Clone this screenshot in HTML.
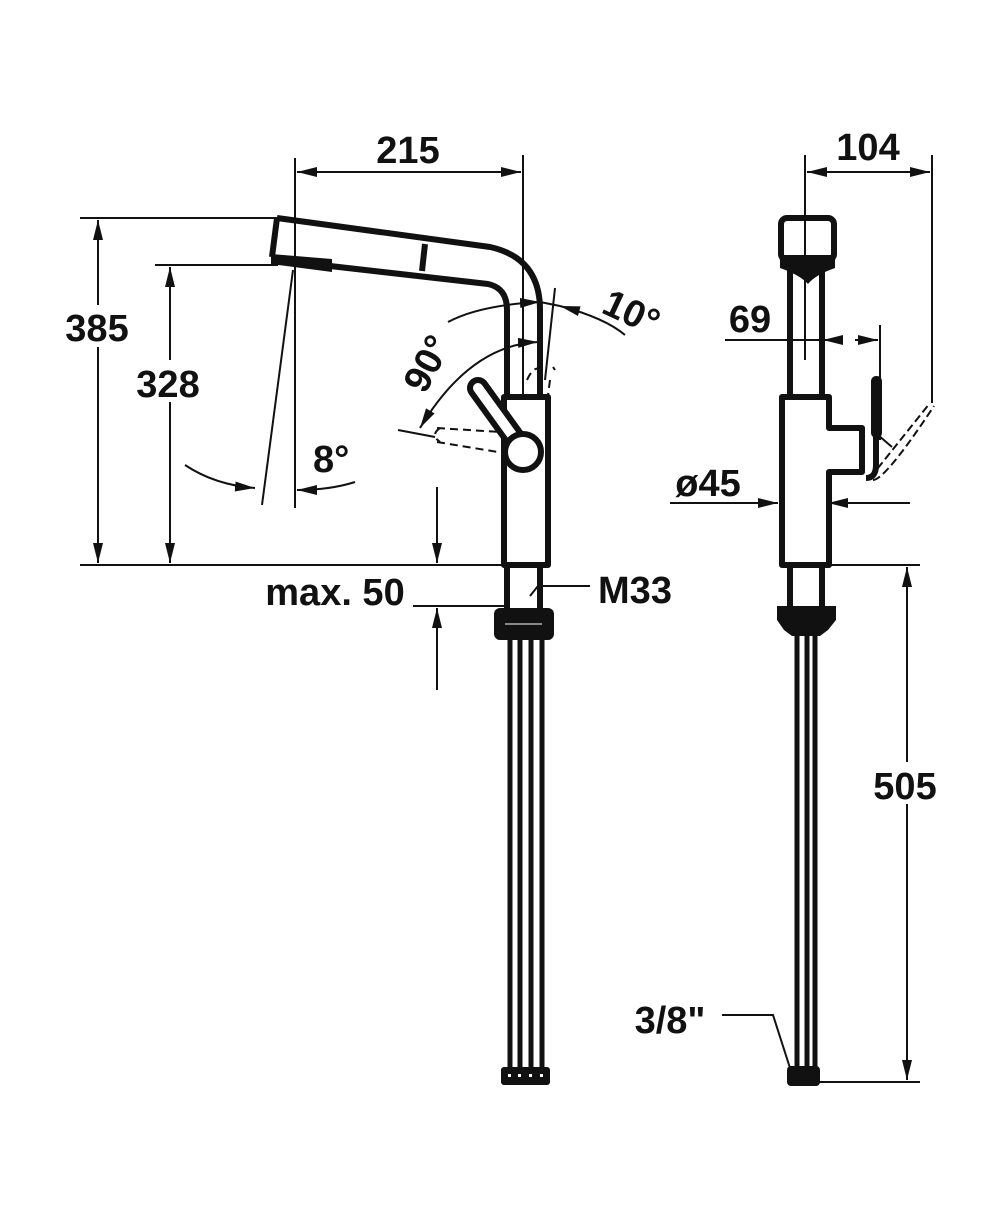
<!DOCTYPE html>
<html><head><meta charset="utf-8"><style>
html,body{margin:0;padding:0;background:#fff}
svg{display:block}
text{font-family:"Liberation Sans",Arial,sans-serif;font-weight:bold;font-size:38px;fill:#111}
</style></head><body>
<svg width="1000" height="1208" viewBox="0 0 1000 1208" xmlns="http://www.w3.org/2000/svg">
<defs>
<marker id="a" viewBox="0 0 20 10" refX="20" refY="5" markerWidth="20" markerHeight="10" markerUnits="userSpaceOnUse" orient="auto-start-reverse"><path d="M0,0 L20,5 L0,10 z" fill="#111"/></marker>
</defs>
<g stroke="#111" fill="none" stroke-width="2">
<!-- 215 -->
<line x1="295" y1="158" x2="295" y2="508"/>
<line x1="523" y1="155" x2="523" y2="398"/>
<line x1="297" y1="172" x2="521" y2="172" marker-start="url(#a)" marker-end="url(#a)"/>
<!-- 385 -->
<line x1="80" y1="218" x2="280" y2="218"/>
<line x1="80" y1="565" x2="502" y2="565"/>
<line x1="98" y1="220" x2="98" y2="563" marker-start="url(#a)" marker-end="url(#a)"/>
<!-- 328 -->
<line x1="155" y1="265" x2="278" y2="265"/>
<line x1="170" y1="267" x2="170" y2="563" marker-start="url(#a)" marker-end="url(#a)"/>
<!-- 8 deg -->
<line x1="293" y1="270" x2="262" y2="505"/>
<path d="M185,465 Q215,485 255,488" marker-end="url(#a)"/>
<path d="M355,482 Q330,490 297,490" marker-end="url(#a)"/>
<!-- 10 / 90 arcs -->
<path d="M448,322 Q480,305 540,302" marker-end="url(#a)"/>
<path d="M625,335 Q605,318 560,306" marker-end="url(#a)"/>
<line x1="540" y1="302" x2="560" y2="306"/>
<line x1="553" y1="367" x2="555" y2="370"/>
<line x1="545" y1="380" x2="555" y2="288"/>
<path d="M538,342 Q470,345 420,428" marker-start="url(#a)" marker-end="url(#a)"/>
<line x1="398" y1="430" x2="435" y2="437"/>
<!-- max 50 -->
<line x1="413" y1="606" x2="508" y2="606"/>
<line x1="437" y1="487" x2="437" y2="563" marker-end="url(#a)"/>
<line x1="437" y1="690" x2="437" y2="608" marker-end="url(#a)"/>
<!-- M33 -->
<line x1="530" y1="596" x2="538" y2="586"/>
<line x1="538" y1="586" x2="590" y2="586"/>
<!-- 3/8 -->
<polyline points="722,1015 773,1015 790,1068"/>
</g>
<!-- left faucet -->
<g stroke="#111" fill="none" stroke-width="6" stroke-linejoin="round">
<path d="M277,218 L490,247 Q540,258 540,310 L540,398"/>
<path d="M277,218 L272,257"/>
<path d="M330,266 L488,284 Q507,288 507,310 L507,398"/>
<line x1="425" y1="244" x2="422" y2="271"/>
<rect x="504" y="397" width="44" height="168"/>
<path d="M500,565 L500,565"/>
</g>
<path d="M271,254 L332,259 L332,272 L271,264 z" fill="#111"/>
<g stroke="#111" stroke-width="2" fill="none" stroke-dasharray="8,5">
<path d="M437,428 L500,432 M437,442 L498,452 M440,428 Q430,435 440,442"/>
<path d="M527,380 Q535,362 545,372 M550,380 L548,395"/>
</g>
<g stroke="#111" stroke-width="6" fill="#fff">
<path d="M478,388 L520,446" stroke-width="22" stroke-linecap="round"/>
<path d="M478,388 L520,446" stroke="#fff" stroke-width="10" stroke-linecap="round"/>
<circle cx="523" cy="452" r="18"/>
</g>
<g stroke="#111" fill="none" stroke-width="6">
<line x1="507" y1="565" x2="507" y2="610"/>
<line x1="540" y1="565" x2="540" y2="610"/>
</g>
<rect x="494" y="608" width="60" height="32" rx="6" fill="#111"/>
<line x1="505" y1="624" x2="542" y2="624" stroke="#888" stroke-width="2"/>
<g stroke="#111" stroke-width="5">
<line x1="510" y1="640" x2="510" y2="1070"/>
<line x1="520" y1="640" x2="520" y2="1070"/>
<line x1="531" y1="640" x2="531" y2="1070"/>
<line x1="542" y1="640" x2="542" y2="1070"/>
</g>
<rect x="501" y="1067" width="49" height="18" rx="3" fill="#111"/>
<g fill="#fff"><rect x="508" y="1074" width="3" height="3"/><rect x="518" y="1074" width="3" height="3"/><rect x="529" y="1074" width="3" height="3"/><rect x="540" y="1074" width="3" height="3"/></g>

<!-- right view dims -->
<g stroke="#111" fill="none" stroke-width="2">
<line x1="805" y1="155" x2="805" y2="360"/>
<line x1="932" y1="155" x2="932" y2="403"/>
<line x1="807" y1="172" x2="930" y2="172" marker-start="url(#a)" marker-end="url(#a)"/>
<line x1="725" y1="340" x2="843" y2="340"/>
<line x1="843" y1="340" x2="823" y2="340" marker-end="url(#a)"/>
<line x1="855" y1="340" x2="878" y2="340" marker-end="url(#a)"/>
<line x1="880" y1="325" x2="880" y2="440"/>
<line x1="670" y1="503" x2="778" y2="503" marker-end="url(#a)"/>
<line x1="910" y1="503" x2="828" y2="503" marker-end="url(#a)"/>
<line x1="826" y1="565" x2="920" y2="565"/>
<line x1="818" y1="1082" x2="920" y2="1082"/>
<line x1="907" y1="567" x2="907" y2="1080" marker-start="url(#a)" marker-end="url(#a)"/>
<path d="M870,478 L930,403" stroke-dasharray="8,4"/>
<path d="M873,480 Q885,480 934,406" stroke-dasharray="8,4"/>
<line x1="878" y1="435" x2="892" y2="447"/>
</g>
<g stroke="#111" fill="none" stroke-width="6" stroke-linejoin="round">
<rect x="781" y="218" width="53" height="42" rx="6"/>
<line x1="790" y1="262" x2="790" y2="397"/>
<line x1="822" y1="262" x2="822" y2="397"/>
<path d="M782,397 L829,397 L829,428 L862,428 L862,472 L829,472 L829,565 L782,565 z"/>
<path d="M876,378 L876,465 Q876,478 866,478"/>
<line x1="790" y1="565" x2="790" y2="608"/>
<line x1="822" y1="565" x2="822" y2="608"/>
</g>
<path d="M780,255 L835,255 L835,268 Q815,275 808,284 Q800,275 780,268 z" fill="#111"/>
<rect x="871" y="376" width="11" height="62" rx="5" fill="#111"/>
<path d="M777,606 L836,606 L836,620 L828,630 L820,636 L792,636 L784,630 L777,620 z" fill="#111"/>
<g stroke="#111" stroke-width="5">
<line x1="797" y1="636" x2="797" y2="1068"/>
<line x1="807" y1="636" x2="807" y2="1068"/>
<line x1="815" y1="636" x2="815" y2="1068"/>
</g>
<rect x="787" y="1066" width="33" height="20" rx="4" fill="#111"/>

<!-- texts -->
<text x="408" y="163" text-anchor="middle">215</text>
<text x="868" y="160" text-anchor="middle">104</text>
<rect x="58" y="305" width="78" height="42" fill="#fff"/>
<text x="97" y="341" text-anchor="middle">385</text>
<rect x="130" y="360" width="78" height="42" fill="#fff"/>
<text x="168" y="397" text-anchor="middle">328</text>
<text x="313" y="472">8°</text>
<text transform="translate(425,395) rotate(-62)">90°</text>
<text transform="translate(600,312) rotate(25)">10°</text>
<text x="750" y="332" text-anchor="middle">69</text>
<text x="708" y="496" text-anchor="middle">ø45</text>
<text x="335" y="605" text-anchor="middle">max. 50</text>
<text x="635" y="603" text-anchor="middle">M33</text>
<rect x="865" y="762" width="80" height="42" fill="#fff"/>
<text x="905" y="799" text-anchor="middle">505</text>
<text x="670" y="1033" text-anchor="middle">3/8"</text>
</svg>
</body></html>
